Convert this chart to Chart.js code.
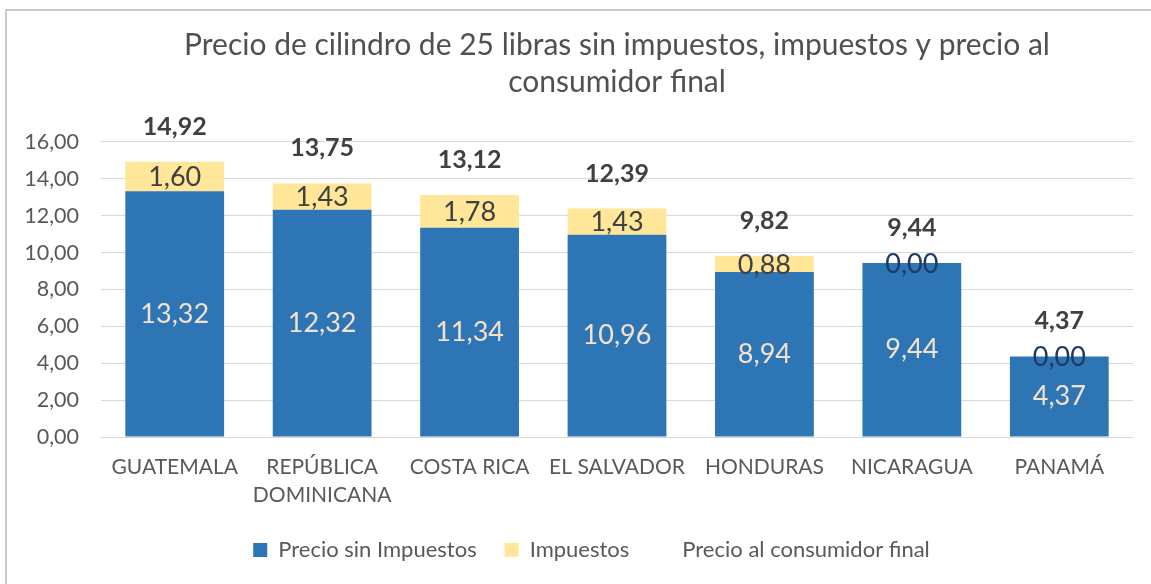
<!DOCTYPE html>
<html>
<head>
<meta charset="utf-8">
<script src="https://cdn.jsdelivr.net/npm/chart.js@4.4.1/dist/chart.umd.min.js"></script>
<style>
  html, body { margin: 0; padding: 0; background: #fff; }
  #wrap { position: relative; width: 1151px; height: 584px; }
  #frame { position: absolute; left: 5px; top: 9px; right: 0; bottom: 0;
           border-top: 2px solid #c9c9c9; border-left: 2px solid #c9c9c9; }
  canvas { position: absolute; left: 0; top: 0; }
</style>
</head>
<body>
<div id="wrap">
  <div id="frame"></div>
  <canvas id="myChart" width="1151" height="584"></canvas>
</div>
<script>
var paises = ['GUATEMALA', ['REPÚBLICA', 'DOMINICANA'], 'COSTA RICA', 'EL SALVADOR', 'HONDURAS', 'NICARAGUA', 'PANAMÁ'];
var precioSinImpuestos = [13.32, 12.32, 11.34, 10.96, 8.94, 9.44, 4.37];
var impuestos = [1.60, 1.43, 1.78, 1.43, 0.88, 0.00, 0.00];
var precioFinal = [14.92, 13.75, 13.12, 12.39, 9.82, 9.44, 4.37];
var ticksY = [0, 2, 4, 6, 8, 10, 12, 14, 16];

var fuente = 'Lato, "Open Sans", sans-serif';

function coma(v) {
  return v.toFixed(2).replace('.', ',');
}

// etiquetas de datos (como en Excel)
var etiquetas = {
  id: 'etiquetas',
  afterLayout: function(chart) {
    // titulo centrado sobre el area del grafico, leyenda algo a la derecha
    var t = chart.titleBlock;
    t.left = chart.chartArea.left;
    t.right = chart.chartArea.right;
    t.width = t.right - t.left;
    chart.legend.left += 50;
  },
  afterDatasetsDraw: function(chart) {
    var ctx = chart.ctx;
    ctx.save();
    ctx.textAlign = 'center';
    ctx.textBaseline = 'middle';
    chart.data.datasets.forEach(function(ds, i) {
      var meta = chart.getDatasetMeta(i);
      meta.data.forEach(function(el, j) {
        var v = ds.data[j];
        if (i === 0) {
          ctx.font = '27px ' + fuente;
          ctx.fillStyle = '#f4e2cf';
          ctx.fillText(coma(v), el.x, (el.y + el.base) / 2);
        } else if (i === 1) {
          ctx.font = '27px ' + fuente;
          ctx.fillStyle = v === 0 ? '#1f3864' : '#404040';
          ctx.fillText(coma(v), el.x, (el.y + el.base) / 2 + 1);
        } else {
          ctx.font = 'bold 25px ' + fuente;
          ctx.fillStyle = '#404040';
          ctx.fillText(coma(v), el.x, el.y - 35);
        }
      });
    });
    ctx.restore();
  }
};

var ctx = document.getElementById('myChart').getContext('2d');
var chartInstance = new Chart(ctx, {
  type: 'bar',
  data: {
    labels: paises,
    datasets: [{
      label: 'Precio sin Impuestos',
      data: precioSinImpuestos,
      backgroundColor: '#2e75b6',
      borderWidth: 0,
      stack: 's',
      order: 2
    }, {
      label: 'Impuestos',
      data: impuestos,
      backgroundColor: '#ffe699',
      borderWidth: 0,
      stack: 's',
      order: 2
    }, {
      type: 'line',
      label: 'Precio al consumidor final',
      data: precioFinal,
      showLine: false,
      pointRadius: 0,
      borderColor: 'rgba(0,0,0,0)',
      backgroundColor: 'rgba(0,0,0,0)',
      order: 1
    }]
  },
  options: {
    responsive: false,
    animation: false,
    layout: { padding: { top: 20, right: 18, left: 0, bottom: 13 } },
    datasets: {
      bar: { categoryPercentage: 1, barPercentage: 0.67 }
    },
    scales: {
      x: {
        stacked: true,
        grid: { display: false, drawTicks: false },
        border: { display: false },
        afterFit: function(scale) { scale.height = 74; },
        ticks: {
          color: '#595959',
          font: { family: fuente, size: 21, lineHeight: 1.33 },
          padding: 16,
          maxRotation: 0,
          autoSkip: false
        }
      },
      y: {
        stacked: true,
        min: 0,
        max: 16,
        afterBuildTicks: function(scale) {
          scale.ticks = ticksY.map(function(v) { return { value: v }; });
        },
        afterFit: function(scale) { scale.width = 101; },
        grid: { color: '#d9d9d9', lineWidth: 1, drawTicks: false },
        border: { display: false },
        ticks: {
          color: '#595959',
          font: { family: fuente, size: 21.5 },
          padding: 22,
          callback: function(v) { return coma(v); }
        }
      }
    },
    plugins: {
      title: {
        display: true,
        text: ['Precio de cilindro de 25 libras sin impuestos, impuestos y precio al', 'consumidor final'],
        color: '#505050',
        font: { family: fuente, size: 30, weight: 'normal', lineHeight: 1.24 },
        padding: { top: 6.5, bottom: 41 }
      },
      legend: {
        position: 'bottom',
        labels: {
          color: '#595959',
          font: { family: fuente, size: 22 },
          boxWidth: 14,
          boxHeight: 14,
          padding: 28,
          generateLabels: function(chart) {
            return chart.data.datasets.map(function(ds, i) {
              return {
                text: ds.label,
                fillStyle: i === 2 ? 'rgba(0,0,0,0)' : ds.backgroundColor,
                strokeStyle: 'rgba(0,0,0,0)',
                lineWidth: 0,
                fontColor: '#595959',
                datasetIndex: i
              };
            });
          }
        }
      },
      tooltip: { enabled: false }
    }
  },
  plugins: [etiquetas]
});
</script>
</body>
</html>
